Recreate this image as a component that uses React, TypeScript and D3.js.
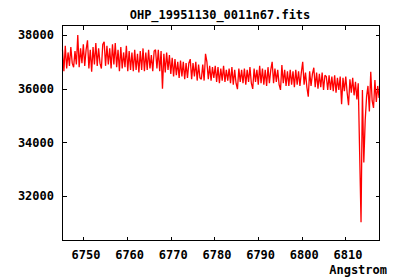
import React from "react";
import * as d3 from "d3";

const TITLE = "OHP_19951130_0011n67.fits";
const X_LABEL = "Angstrom";
const X_TICKS = [6750, 6760, 6770, 6780, 6790, 6800, 6810];
const Y_TICKS = [32000, 34000, 36000, 38000];
const X_DOMAIN = [6745.2, 6817.8];
const Y_DOMAIN = [30333, 38355];
const LAMBDA_START = 6745.2;
const LAMBDA_STEP = 0.318;

const FLUX = [
  37450, 36650, 37600, 36750, 37350, 36850, 37550, 36950, 36800, 37400,
  36900, 38000, 36800, 37500, 36950, 37650, 36850, 37450, 37800, 36750,
  37450, 36630, 37550, 36900, 37700, 36850, 37500, 36950, 36750, 37650,
  37750, 36850, 37600, 36900, 37500, 36750, 37650, 36900, 37700, 36800,
  37450, 36650, 37550, 36750, 37350, 36800, 37600, 36650, 37400, 36700,
  37350, 36650, 37450, 36700, 37300, 36600, 37400, 36700, 37500, 36650,
  37350, 36700, 37450, 36750, 37250, 36650, 37400, 37450, 36750, 37450,
  36650, 37400, 36000, 37300, 36600, 37350, 36700, 37250, 36550, 37150,
  36450, 37100, 36500, 37000, 36400, 37050, 36450, 37000, 36350, 36950,
  36400, 36950, 37100, 36350, 36950, 36450, 37000, 36300, 36900, 36400,
  36350, 36900, 36300, 37300, 37000, 36350, 36850, 36300, 36800, 36400,
  36850, 36250, 36800, 36200, 36750, 36300, 36850, 36250, 36700, 36300,
  36750, 36200, 36800, 36150, 36700, 36200, 35980, 36750, 36250, 36700,
  36200, 36750, 36150, 36700, 36250, 36800, 36200, 35990, 36750, 36250,
  36700, 36150, 36850, 36200, 36750, 36150, 36700, 36100, 36800, 36200,
  36700, 37000, 36200, 36750, 36250, 36700, 36150, 35950, 36880, 36200,
  36700, 36100, 36650, 36100, 36700, 36150, 36650, 36050, 36700, 36150,
  36650, 36100, 36600, 37000, 36150, 36600, 36050, 35700, 36650, 36100,
  36550, 36780, 36050, 36600, 36000, 36550, 36050, 36600, 35950, 36500,
  36450, 35950, 36500, 35950, 36450, 35900, 36500, 35850, 36400, 35950,
  36450, 35420, 36400, 35900, 36450, 35850, 35380, 36350, 35850, 36400,
  35750, 36250, 35600, 36200, 33630, 31015, 35950, 33240, 34815, 35700,
  36100, 35150, 36630, 35550, 35280, 36320, 35500, 36100, 35650,
];

const LEFT = 62.5;
const RIGHT = 379.5;
const TOP = 25.5;
const BOTTOM = 240.5;
const FONT = "'DejaVu Sans Mono', monospace";

export default function App() {
  const x = d3.scaleLinear().domain(X_DOMAIN).range([LEFT, RIGHT]);
  const y = d3.scaleLinear().domain(Y_DOMAIN).range([BOTTOM, TOP]);
  const pts: [number, number][] = FLUX.map((v, i) => [LAMBDA_START + i * LAMBDA_STEP, v]);
  const line = d3
    .line<[number, number]>()
    .x((d) => x(d[0]))
    .y((d) => y(d[1]));
  const tl = 4;
  return (
    <svg
      width={400}
      height={280}
      style={{ position: "absolute", left: 0, top: 0, background: "#fff" }}
      fontFamily={FONT}
      fontWeight="bold"
      fontSize={12}
    >
      <rect x={0} y={0} width={400} height={280} fill="#fff" />
      <text x={220} y={18.5} textAnchor="middle" fill="#000">
        {TITLE}
      </text>
      <g stroke="#000" strokeWidth={1} shapeRendering="crispEdges">
        {X_TICKS.map((t) => (
          <g key={t}>
            <line x1={Math.round(x(t)) + 0.5} x2={Math.round(x(t)) + 0.5} y1={BOTTOM} y2={BOTTOM - tl} />
            <line x1={Math.round(x(t)) + 0.5} x2={Math.round(x(t)) + 0.5} y1={TOP} y2={TOP + tl} />
          </g>
        ))}
        {Y_TICKS.map((t) => (
          <g key={t}>
            <line y1={Math.round(y(t)) + 0.5} y2={Math.round(y(t)) + 0.5} x1={LEFT} x2={LEFT + tl} />
            <line y1={Math.round(y(t)) + 0.5} y2={Math.round(y(t)) + 0.5} x1={RIGHT} x2={RIGHT - tl} />
          </g>
        ))}
      </g>
      <path d={line(pts) || ""} fill="none" stroke="#ff0000" strokeWidth={1.3} strokeLinejoin="miter" strokeMiterlimit={2} />
      <rect
        x={LEFT}
        y={TOP}
        width={RIGHT - LEFT}
        height={BOTTOM - TOP}
        fill="none"
        stroke="#000"
        strokeWidth={1}
        shapeRendering="crispEdges"
      />
      {X_TICKS.map((t) => (
        <text key={t} x={x(t) + 2.5} y={258.5} textAnchor="middle" fill="#000">
          {t}
        </text>
      ))}
      {Y_TICKS.map((t) => (
        <text key={t} x={54} y={y(t) + 4.3} textAnchor="end" fill="#000">
          {t}
        </text>
      ))}
      <text x={387} y={274} textAnchor="end" fill="#000">
        {X_LABEL}
      </text>
    </svg>
  );
}
